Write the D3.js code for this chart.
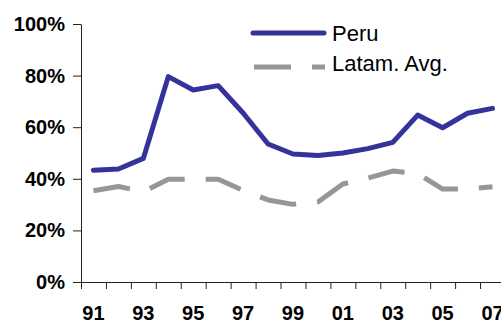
<!DOCTYPE html>
<html>
<head>
<meta charset="utf-8">
<script src="https://cdn.jsdelivr.net/npm/d3@7"></script>
<style>
  html, body { margin: 0; padding: 0; background: #fff; }
  svg { display: block; }
  text { font-family: "Liberation Sans", Arial, sans-serif; }
</style>
</head>
<body>
<svg id="chart" width="501" height="320"></svg>
<script>
const years = ["91","92","93","94","95","96","97","98","99","00","01","02","03","04","05","06","07"];
const peru  = [43.3, 43.8, 47.9, 79.6, 74.4, 76.1, 65.5, 53.5, 49.6, 49.0, 50.0, 51.7, 54.1, 64.7, 59.8, 65.4, 67.3];
const latam = [35.4, 37.0, 35.0, 39.8, 39.8, 39.8, 35.5, 31.8, 30.1, 31.0, 38.0, 40.3, 43.0, 42.1, 36.0, 36.0, 36.9];
const yTicks = [0, 20, 40, 60, 80, 100];
const seriesNames = ["Peru", "Latam. Avg."];

const svg = d3.select("#chart");
const plotLeft = 81, plotTop = 24, plotBottom = 282, step = 24.94;
const plotRight = plotLeft + step * years.length;

const x = d3.scaleBand().domain(years).range([plotLeft, plotRight]).padding(0);
const xEdge = d3.scaleLinear().domain([0, years.length]).range([plotLeft, plotRight]);
const y = d3.scaleLinear().domain([0, 100]).range([plotBottom, plotTop]);

// Y axis
const yAxis = svg.append("g")
  .attr("transform", `translate(${plotLeft},0)`)
  .call(d3.axisLeft(y).tickValues(yTicks).tickFormat(d => d + "%").tickSize(8).tickPadding(8).tickSizeOuter(0));
yAxis.select(".domain").attr("stroke", "#222");
yAxis.selectAll(".tick line").attr("stroke", "#222");
yAxis.selectAll(".tick text")
  .attr("font-family", "'Liberation Sans', Arial, sans-serif")
  .attr("font-size", 20).attr("font-weight", "bold").attr("fill", "#000");

// X axis (ticks at category boundaries)
const xAxis = svg.append("g")
  .attr("transform", `translate(0,${plotBottom})`)
  .call(d3.axisBottom(xEdge).tickValues(d3.range(0, years.length + 1)).tickFormat("").tickSize(7).tickSizeOuter(0));
xAxis.select(".domain").attr("stroke", "#222");
xAxis.selectAll(".tick line").attr("stroke", "#222");

// X labels (every other year)
svg.append("g").selectAll("text")
  .data(years.filter((d, i) => i % 2 === 0))
  .join("text")
  .attr("x", d => x(d) + x.bandwidth() / 2)
  .attr("y", 319.5)
  .attr("text-anchor", "middle")
  .attr("font-size", 20).attr("font-weight", "bold").attr("fill", "#000")
  .text(d => d);

const line = d3.line()
  .x((d, i) => x(years[i]) + x.bandwidth() / 2)
  .y(d => y(d));

svg.append("path").datum(latam)
  .attr("d", line)
  .attr("fill", "none").attr("stroke", "#969696").attr("stroke-width", 5)
  .attr("stroke-dasharray", "37,21").attr("stroke-linejoin", "round");

svg.append("path").datum(peru)
  .attr("d", line)
  .attr("fill", "none").attr("stroke", "#333399").attr("stroke-width", 5)
  .attr("stroke-linejoin", "round").attr("stroke-linecap", "round");

// Legend
const lg = svg.append("g");
lg.append("line").attr("x1", 253).attr("x2", 324).attr("y1", 33).attr("y2", 33)
  .attr("stroke", "#333399").attr("stroke-width", 5).attr("stroke-linecap", "round");
lg.append("line").attr("x1", 254).attr("x2", 325).attr("y1", 67).attr("y2", 67)
  .attr("stroke", "#969696").attr("stroke-width", 5).attr("stroke-dasharray", "37,21");
lg.append("text").attr("x", 332).attr("y", 41).attr("font-size", 22).attr("fill", "#000").text(seriesNames[0]);
lg.append("text").attr("x", 332).attr("y", 71).attr("font-size", 22).attr("fill", "#000").text(seriesNames[1]);
</script>
</body>
</html>
